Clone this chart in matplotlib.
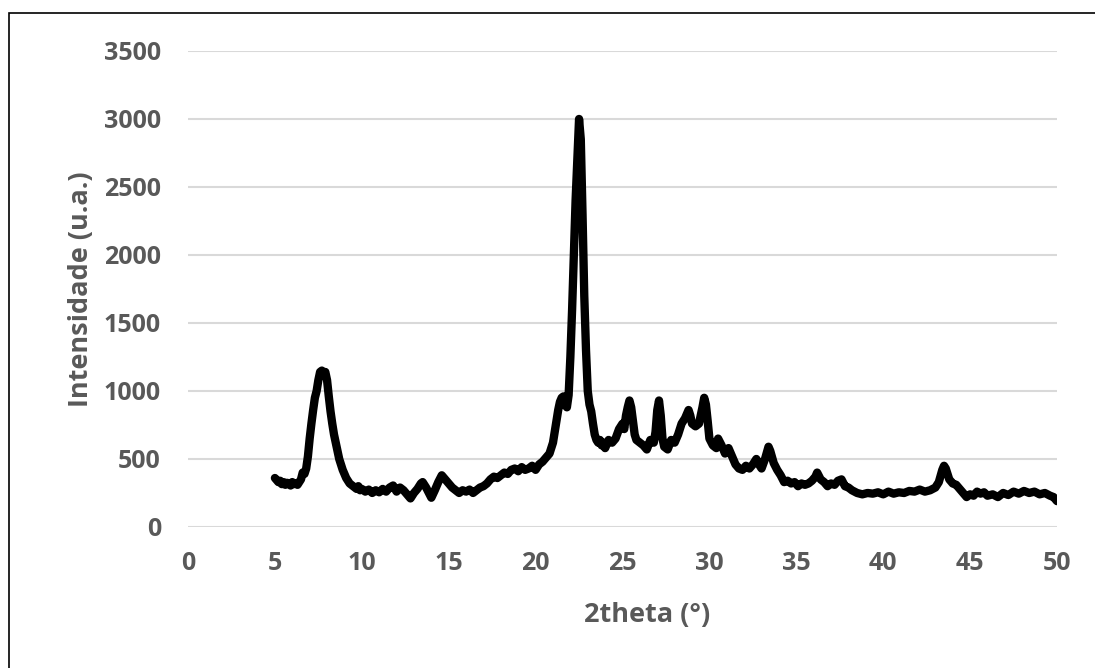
import matplotlib
matplotlib.use('Agg')
import matplotlib.pyplot as plt
from matplotlib.patches import Rectangle

# 2theta / intensity
theta = [5.0, 5.1, 5.2, 5.3, 5.4, 5.5, 5.6, 5.7, 5.8, 5.9, 6.0, 6.1, 6.2, 6.3, 6.4,
         6.5, 6.6, 6.7, 6.8, 6.9, 7.0, 7.1, 7.2, 7.3, 7.4, 7.5, 7.6, 7.7, 7.8, 7.9,
         8.0, 8.1, 8.2, 8.3, 8.4, 8.5, 8.6, 8.7, 8.8, 8.9, 9.0, 9.1, 9.2, 9.3, 9.4,
         9.5, 9.6, 9.7, 9.8, 9.9, 10.0, 10.2, 10.4, 10.6, 10.8, 11.0, 11.2, 11.4,
         11.6, 11.8, 12.0, 12.2, 12.4, 12.6, 12.8, 13.0, 13.2, 13.4, 13.5, 13.7,
         13.9, 14.0, 14.2, 14.4, 14.6, 14.8, 15.0, 15.2, 15.4, 15.6, 15.8, 16.0,
         16.2, 16.4, 16.6, 16.8, 17.0, 17.2, 17.4, 17.6, 17.8, 18.0, 18.2, 18.4,
         18.6, 18.8, 19.0, 19.2, 19.4, 19.6, 19.8, 20.0, 20.2, 20.4, 20.6, 20.8,
         21.0, 21.1, 21.2, 21.3, 21.4, 21.5, 21.6, 21.7, 21.8, 21.9, 22.0, 22.1,
         22.2, 22.3, 22.4, 22.5, 22.6, 22.7, 22.8, 22.9, 23.0, 23.1, 23.2, 23.3,
         23.4, 23.5, 23.6, 23.7, 23.8, 23.9, 24.0, 24.2, 24.4, 24.6, 24.8, 25.0,
         25.1, 25.2, 25.3, 25.4, 25.5, 25.6, 25.7, 25.8, 26.0, 26.2, 26.4, 26.6,
         26.8, 26.9, 27.0, 27.1, 27.2, 27.3, 27.4, 27.6, 27.8, 28.0, 28.2, 28.4,
         28.6, 28.8, 28.9, 29.0, 29.2, 29.4, 29.6, 29.7, 29.8, 29.9, 30.0, 30.2,
         30.4, 30.5, 30.7, 30.9, 31.1, 31.3, 31.5, 31.7, 31.9, 32.1, 32.3, 32.5,
         32.7, 32.9, 33.0, 33.2, 33.4, 33.5, 33.7, 33.9, 34.1, 34.3, 34.5, 34.7,
         34.9, 35.1, 35.3, 35.5, 35.7, 35.9, 36.1, 36.2, 36.4, 36.6, 36.8, 37.0,
         37.2, 37.4, 37.6, 37.8, 38.0, 38.2, 38.5, 38.8, 39.1, 39.4, 39.7, 40.0,
         40.3, 40.6, 40.9, 41.2, 41.5, 41.8, 42.1, 42.4, 42.7, 43.0, 43.2, 43.4,
         43.5, 43.6, 43.8, 44.0, 44.2, 44.4, 44.6, 44.8, 45.0, 45.2, 45.4, 45.6,
         45.8, 46.0, 46.3, 46.6, 46.9, 47.2, 47.5, 47.8, 48.1, 48.4, 48.7, 49.0,
         49.3, 49.6, 49.8, 50.0]
intensity = [360, 345, 330, 340, 315, 330, 310, 325, 320, 305, 330, 315, 320, 310, 330,
             350, 400, 390, 430, 520, 650, 760, 860, 950, 1000, 1080, 1140, 1150, 1120, 1140,
             1080, 960, 850, 760, 680, 620, 560, 500, 460, 420, 390, 360, 340, 320, 310,
             300, 290, 280, 300, 270, 280, 260, 275, 250, 270, 255, 280, 260,
             290, 305, 260, 290, 270, 240, 210, 250, 280, 320, 330, 290,
             240, 215, 270, 330, 380, 350, 320, 290, 270, 250, 270, 260,
             275, 250, 270, 290, 300, 320, 350, 370, 360, 380, 400, 390,
             420, 430, 410, 440, 420, 430, 450, 420, 460, 480, 510, 540,
             620, 700, 780, 860, 920, 950, 960, 900, 880, 970, 1250, 1600,
             2000, 2400, 2700, 3000, 2850, 2300, 1700, 1300, 1000, 900, 850, 760,
             680, 640, 620, 640, 600, 620, 580, 640, 620, 650, 720, 760,
             720, 820, 880, 930, 880, 780, 680, 640, 620, 600, 570, 640,
             620, 700, 860, 930, 820, 650, 590, 570, 640, 620, 680, 760,
             800, 860, 820, 760, 740, 760, 880, 950, 900, 780, 650, 600,
             580, 650, 600, 540, 580, 520, 460, 430, 420, 450, 430, 460,
             500, 450, 430, 500, 590, 560, 470, 420, 380, 330, 340, 320,
             330, 300, 320, 310, 320, 340, 370, 400, 350, 330, 300, 320,
             310, 340, 350, 300, 290, 270, 250, 240, 250, 245, 255, 240,
             260, 245, 255, 250, 265, 260, 275, 260, 270, 290, 330, 420,
             450, 430, 350, 320, 310, 280, 250, 220, 240, 230, 260, 245,
             255, 230, 240, 220, 250, 235, 260, 245, 265, 250, 260, 240,
             250, 230, 220, 190]

x_ticks = [0, 5, 10, 15, 20, 25, 30, 35, 40, 45, 50]
y_ticks = [0, 500, 1000, 1500, 2000, 2500, 3000, 3500]

plt.rcParams['font.family'] = ['Open Sans', 'DejaVu Sans']
plt.rcParams['font.weight'] = 'bold'
grey = '#595959'

fig = plt.figure(figsize=(10.95, 6.68), dpi=100)
ax = fig.add_axes([0.1717, 0.2111, 0.7936, 0.7126])

# outer chart frame (only left/top edges fall inside the image)
fig.patches.append(Rectangle((9 / 1095, -0.05), 1.2, 0.9805 + 0.05,
                             transform=fig.transFigure, fill=False,
                             edgecolor='black', linewidth=1.2))

ax.plot(theta, intensity, color='black', linewidth=6,
        solid_joinstyle='round', solid_capstyle='round', zorder=3)

ax.set_xlim(0, 50)
ax.set_ylim(0, 3500)
ax.set_xticks(x_ticks)
ax.set_yticks(y_ticks)
ax.grid(axis='y', color='#d9d9d9', linewidth=1.5)
ax.set_axisbelow(True)
for s in ['top', 'right', 'left', 'bottom']:
    ax.spines[s].set_visible(False)
ax.tick_params(length=0, labelsize=18, labelcolor=grey)
ax.tick_params(axis='x', pad=17)
ax.tick_params(axis='y', pad=19.5)
for lab in ax.get_xticklabels() + ax.get_yticklabels():
    lab.set_fontweight('bold')

ax.set_xlabel('2theta (°)', fontsize=19.5, fontweight='bold', color=grey)
ax.xaxis.set_label_coords(0.528, -0.158)
ax.set_ylabel('Intensidade (u.a.)', fontsize=19.5, fontweight='bold', color=grey, labelpad=7)

fig.savefig('out.png', dpi=100)
